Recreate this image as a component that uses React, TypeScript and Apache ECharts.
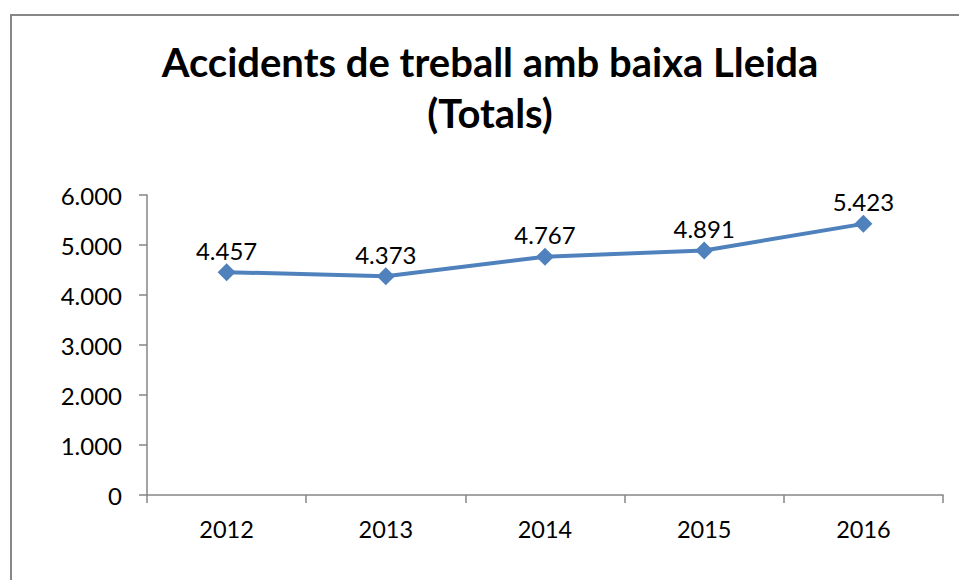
import React, { useEffect, useRef } from "react";
import * as echarts from "echarts";

const titleLines = ["Accidents de treball amb baixa Lleida", "(Totals)"];
const years = ["2012", "2013", "2014", "2015", "2016"];
const totals = [4457, 4373, 4767, 4891, 5423];
const yTicks = [0, 1000, 2000, 3000, 4000, 5000, 6000];

const fmt = (v: number) => {
  const s = String(Math.round(v));
  return s.replace(/\B(?=(\d{3})+(?!\d))/g, ".");
};

export default function App() {
  const ref = useRef<HTMLDivElement>(null);
  useEffect(() => {
    if (!ref.current) return;
    const chart = echarts.init(ref.current, null, { renderer: "svg" });
    chart.setOption({
      animation: false,
      backgroundColor: "#ffffff",
      textStyle: { fontFamily: "Lato" },
      graphic: [
        {
          type: "rect",
          shape: { x: 11, y: 15, width: 1000, height: 700 },
          style: { fill: "none", stroke: "#878787", lineWidth: 2 },
          silent: true,
        },
        {
          type: "text",
          x: 490,
          y: 62,
          style: {
            text: titleLines[0],
            fontFamily: "Lato",
            fontWeight: "bold",
            fontSize: 40,
            fill: "#000",
            align: "center",
            verticalAlign: "middle",
          },
        },
        {
          type: "text",
          x: 490,
          y: 113,
          style: {
            text: titleLines[1],
            fontFamily: "Lato",
            fontWeight: "bold",
            fontSize: 40,
            fill: "#000",
            align: "center",
            verticalAlign: "middle",
          },
        },
      ],
      grid: { left: 147, right: 16, top: 195, bottom: 85, containLabel: false },
      xAxis: {
        type: "category",
        data: years,
        boundaryGap: true,
        axisLine: { lineStyle: { color: "#868686", width: 1.5 } },
        axisTick: { show: true, length: 8, lineStyle: { color: "#868686", width: 1.5 } },
        axisLabel: { color: "#000", fontSize: 23.5, margin: 22, fontFamily: "Lato" },
        splitLine: { show: false },
      },
      yAxis: {
        type: "value",
        min: yTicks[0],
        max: yTicks[yTicks.length - 1],
        interval: 1000,
        axisLine: { show: true, lineStyle: { color: "#868686", width: 1.5 } },
        axisTick: { show: true, length: 8, lineStyle: { color: "#868686", width: 1.5 } },
        axisLabel: {
          color: "#000",
          fontSize: 24,
          margin: 25,
          fontFamily: "Lato",
          formatter: (v: number) => fmt(v),
        },
        splitLine: { show: false },
      },
      series: [
        {
          type: "line",
          data: totals,
          lineStyle: { color: "#4F81BD", width: 4 },
          itemStyle: { color: "#4F81BD" },
          symbol: "diamond",
          symbolSize: 18,
          label: {
            show: true,
            position: "top",
            distance: 1,
            color: "#000",
            fontSize: 24,
            fontFamily: "Lato",
            formatter: (p: any) => fmt(p.value),
          },
        },
      ],
    });
    return () => chart.dispose();
  }, []);
  return (
    <div
      ref={ref}
      style={{ position: "absolute", left: 0, top: 0, width: 959, height: 580 }}
    />
  );
}
